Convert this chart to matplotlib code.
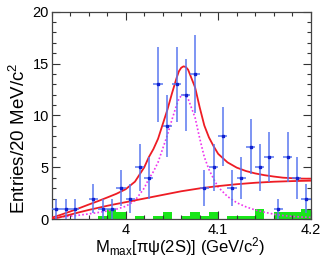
import numpy as np
import matplotlib
matplotlib.use("Agg")
import matplotlib.pyplot as plt
from matplotlib.ticker import MultipleLocator, FixedLocator

plt.rcParams['font.family'] = ['Liberation Sans', 'DejaVu Sans']
plt.rcParams['mathtext.fontset'] = 'custom'
plt.rcParams['mathtext.rm'] = 'Liberation Sans'
plt.rcParams['mathtext.it'] = 'Liberation Sans'

# data points (bin centers, GeV) and entries
x_data = [3.925, 3.935, 3.945, 3.965, 3.975, 3.985, 3.995, 4.005, 4.015, 4.025,
          4.035, 4.045, 4.055, 4.065, 4.075, 4.085, 4.095, 4.105, 4.115, 4.125,
          4.135, 4.145, 4.155, 4.165, 4.175, 4.185, 4.195]
counts = [1, 1, 1, 2, 1, 1, 3, 2, 5, 4,
          13, 9, 13, 12, 14, 3, 5, 8, 3, 4,
          7, 5, 6, 1, 6, 4, 2]
errors = [1.0, 1.0, 1.0, 1.41, 1.0, 1.0, 1.73, 1.41, 2.24, 2.0,
          3.61, 3.0, 3.61, 3.46, 3.74, 1.73, 2.24, 2.83, 1.73, 2.0,
          2.65, 2.24, 2.45, 1.0, 2.45, 2.0, 1.41]

# sideband (green) histogram
sb_edges = [3.92, 3.93, 3.94, 3.95, 3.96, 3.97, 3.98, 3.99, 4.00, 4.01, 4.02,
            4.03, 4.04, 4.05, 4.06, 4.07, 4.08, 4.09, 4.10, 4.11, 4.12, 4.13,
            4.14, 4.15, 4.16, 4.17, 4.18, 4.19, 4.20]
sb_vals = [0, 0, 0, 0, 0, 0.33, 1.0, 0.67, 0, 0.33, 0,
           0.33, 0.67, 0, 0.33, 0.67, 0.33, 0.67, 0, 0.33, 0.33, 0.33,
           1.0, 0, 0.67, 0.67, 0.67, 1.0]

# background curve samples
bg_x = [3.92, 3.93, 3.94, 3.95, 3.96, 3.97, 3.98, 3.99, 4.00, 4.02, 4.04,
        4.06, 4.08, 4.10, 4.12, 4.14, 4.16, 4.18, 4.20]
bg_y = [0.0, 0.22, 0.45, 0.68, 0.9, 1.1, 1.3, 1.48, 1.65, 2.0, 2.35,
        2.7, 2.98, 3.2, 3.38, 3.52, 3.62, 3.68, 3.72]

# signal curve samples
sig_x = [3.92, 3.93, 3.94, 3.95, 3.96, 3.97, 3.98, 3.99, 4.00, 4.01, 4.02,
         4.025, 4.03, 4.035, 4.04, 4.045, 4.05, 4.055, 4.0575, 4.06, 4.0625,
         4.065, 4.0675, 4.07, 4.075, 4.08, 4.085, 4.09, 4.095, 4.10, 4.11,
         4.12, 4.13, 4.14, 4.15, 4.16, 4.17, 4.18, 4.19, 4.20]
sig_y = [0.15, 0.22, 0.3, 0.4, 0.52, 0.65, 0.8, 0.98, 1.25, 1.8, 3.0,
         3.9, 4.6, 5.5, 6.8, 8.1, 9.6, 11.0, 11.6, 11.9, 12.0,
         11.9, 11.6, 11.0, 9.8, 7.8, 6.0, 4.8, 3.9, 3.1, 2.2,
         1.6, 1.2, 0.9, 0.68, 0.5, 0.36, 0.28, 0.22, 0.19]

W, H = 332, 261
fig = plt.figure(figsize=(W / 100, H / 100), dpi=100)
ax = fig.add_axes([51.7 / W, 1 - 219.3 / H, (310.7 - 51.7) / W, (219.3 - 11.7) / H])

ax.stairs(sb_vals, sb_edges, fill=True, color='#19e619', lw=0, zorder=1)

bg_on_sig = np.interp(sig_x, bg_x, bg_y)
total_y = np.array(sig_y) + bg_on_sig

ax.plot(sig_x, sig_y, color='#ee33ee', lw=1.2, ls=(0, (1, 1.3)), zorder=2)
ax.plot(bg_x, bg_y, color='#ee1c24', lw=1.3, zorder=3)
ax.plot(sig_x, total_y, color='#ee1c24', lw=1.3, zorder=3)

ax.errorbar(x_data, counts, yerr=errors, xerr=0.005, fmt='s', ms=1.7,
            mfc='#1020d0', mec='#1020d0', ecolor='#5a78f0', elinewidth=1.1,
            capsize=0, zorder=4)

ax.set_xlim(3.92, 4.2)
ax.set_ylim(0, 20)
ax.xaxis.set_major_locator(FixedLocator([4.0, 4.1, 4.2]))
ax.set_xticklabels(['4', '4.1', '4.2'])
ax.xaxis.set_minor_locator(MultipleLocator(0.02))
ax.yaxis.set_major_locator(MultipleLocator(5))
ax.yaxis.set_minor_locator(MultipleLocator(1))
ax.tick_params(which='both', direction='in', top=True, right=True,
               color='#333333', width=0.8, labelsize=10.5)
ax.tick_params(which='major', length=5.5)
ax.tick_params(axis='x', which='major', pad=2.5)
ax.tick_params(axis='y', which='major', pad=2)
ax.tick_params(which='minor', length=3)
for s in ax.spines.values():
    s.set_color('#444444')
    s.set_linewidth(0.9)

fig.text(180 / W, 1 - 247 / H, r'M$_{\rm max}$[$\pi\psi$(2S)] (GeV/c$^2$)',
         ha='center', va='center', fontsize=12)
fig.text(19 / W, 1 - 138.5 / H, r'Entries/20 MeV/c$^2$', rotation=90,
         ha='center', va='center', fontsize=13.5)

fig.savefig('out.png', dpi=100)
